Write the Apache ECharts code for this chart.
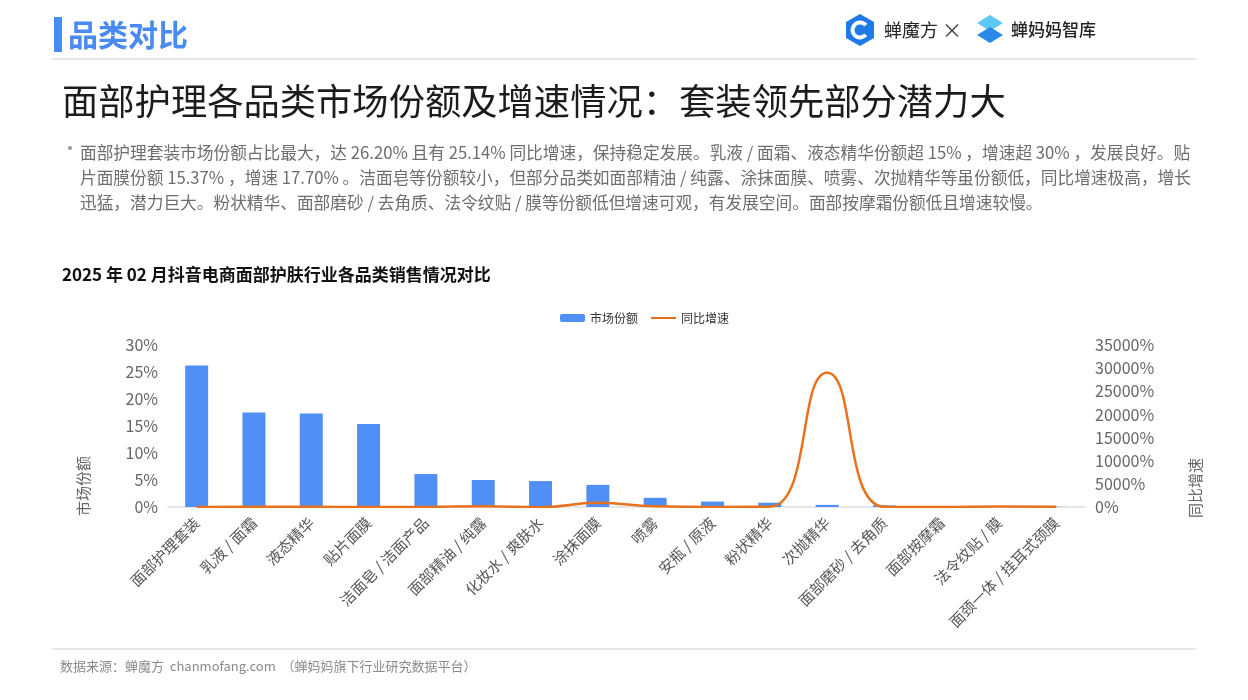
<!DOCTYPE html>
<html>
<head>
<meta charset="utf-8">
<script src="https://cdn.jsdelivr.net/npm/echarts@6/dist/echarts.min.js"></script>
<style>
html,body{margin:0;padding:0;background:#fff;}
#c{width:1248px;height:700px;}
</style>
</head>
<body>
<div id="c"></div>
<script>
// ---- data ----
const categories = ['面部护理套装','乳液 / 面霜','液态精华','贴片面膜','洁面皂 / 洁面产品','面部精油 / 纯露','化妆水 / 爽肤水','涂抹面膜','喷雾','安瓶 / 原液','粉状精华','次抛精华','面部磨砂 / 去角质','面部按摩霜','法令纹贴 / 膜','面颈一体 / 挂耳式颈膜'];
const shareValues = [26.20, 17.5, 17.3, 15.37, 6.1, 5.0, 4.8, 4.1, 1.7, 1.0, 0.8, 0.4, 0.3, 0.1, 0.05, 0.03];
const growthValues = [25.14, 33.5, 31.2, 17.70, 12.0, 180, -30, 900, 150, 20, 60, 29000, 40, 8, 120, 60];
const seriesNames = ['市场份额', '同比增速'];
const leftAxis = {min: 0, max: 30, interval: 5};
const rightAxis = {min: 0, max: 35000, interval: 5000};

const FONT = '"Noto Sans CJK SC", "Noto Sans", sans-serif';
const chart = echarts.init(document.getElementById('c'), null, {renderer: 'canvas'});

const paragraph = [
  '面部护理套装市场份额占比最大，达 26.20% 且有 25.14% 同比增速，保持稳定发展。乳液 / 面霜、液态精华份额超 15% ，增速超 30% ，发展良好。贴',
  '片面膜份额 15.37% ，增速 17.70% 。洁面皂等份额较小，但部分品类如面部精油 / 纯露、涂抹面膜、喷雾、次抛精华等虽份额低，同比增速极高，增长',
  '迅猛，潜力巨大。粉状精华、面部磨砂 / 去角质、法令纹贴 / 膜等份额低但增速可观，有发展空间。面部按摩霜份额低且增速较慢。'
];

const pct = v => v + '%';

const graphics = [
  {type:'rect', shape:{x:54, y:17, width:8, height:35}, style:{fill:'#4a8af4'}},
  {type:'text', x:68, y:35, style:{text:'品类对比', font:'bold 30px ' + FONT, fill:'#4a8af4', verticalAlign:'middle'}},
  {type:'line', shape:{x1:52, y1:59, x2:1196, y2:59}, style:{stroke:'#e7e7eb', lineWidth:2}},
  // logo 1
  {type:'polygon', shape:{points:[[860,14],[874,22],[874,38],[860,46],[846,38],[846,22]]}, style:{fill:'#1f7ae8'}},
  {type:'arc', shape:{cx:860, cy:30, r:7.5, startAngle:0.7, endAngle:Math.PI*2-0.7}, style:{stroke:'#fff', lineWidth:4, fill:null}},
  {type:'text', x:884, y:30, style:{text:'蝉魔方', font:'18px ' + FONT, fill:'#222', verticalAlign:'middle'}},
  {type:'text', x:952, y:30, style:{text:'×', font:'20px ' + FONT, fill:'#444', align:'center', verticalAlign:'middle'}},
  // logo 2
  {type:'polygon', shape:{points:[[990,15],[1003,23],[990,31],[977,23]]}, style:{fill:'#5cc9f2'}},
  {type:'polygon', shape:{points:[[990,27],[1003,35],[990,43],[977,35]]}, style:{fill:'#2a8ae8'}},
  {type:'text', x:1011, y:30, style:{text:'蝉妈妈智库', font:'500 17px ' + FONT, fill:'#222', verticalAlign:'middle'}},
  // title
  {type:'text', x:62, y:101, style:{text:'面部护理各品类市场份额及增速情况：套装领先部分潜力大', font:'36.3px ' + FONT, fill:'#1c1c1c', verticalAlign:'middle'}},
  {type:'circle', shape:{cx:70, cy:148, r:2}, style:{fill:'#999'}},
  {type:'text', x:80, y:153, style:{text:paragraph[0], font:'16.7px ' + FONT, fill:'#6e6e6e', verticalAlign:'middle'}},
  {type:'text', x:80, y:178, style:{text:paragraph[1], font:'16.7px ' + FONT, fill:'#6e6e6e', verticalAlign:'middle'}},
  {type:'text', x:80, y:203, style:{text:paragraph[2], font:'16.7px ' + FONT, fill:'#6e6e6e', verticalAlign:'middle'}},
  // chart title
  {type:'text', x:62, y:275, style:{text:'2025 年 02 月抖音电商面部护肤行业各品类销售情况对比', font:'bold 17px ' + FONT, fill:'#111', verticalAlign:'middle'}},
  // axis names
  {type:'text', x:83, y:486, rotation:Math.PI/2, style:{text:'市场份额', font:'15px ' + FONT, fill:'#666', align:'center', verticalAlign:'middle'}},
  {type:'text', x:1195, y:488, rotation:Math.PI/2, style:{text:'同比增速', font:'15px ' + FONT, fill:'#666', align:'center', verticalAlign:'middle'}},
  // footer
  {type:'line', shape:{x1:52, y1:649, x2:1196, y2:649}, style:{stroke:'#e7e7eb', lineWidth:2}},
  {type:'text', x:60, y:666, style:{text:'数据来源：蝉魔方  chanmofang.com  （蝉妈妈旗下行业研究数据平台）', font:'13px ' + FONT, fill:'#8a8a8a', verticalAlign:'middle'}}
];

const option = {
  animation: false,
  backgroundColor: '#fff',
  textStyle: {fontFamily: FONT},
  legend: {
    data: [
      {name: seriesNames[0]},
      {name: seriesNames[1], itemStyle: {opacity: 0, color: 'transparent', borderWidth: 0}}
    ],
    left: 555, top: 307,
    itemWidth: 25, itemHeight: 8, itemGap: 12,
    textStyle: {fontSize: 12, color: '#333', fontFamily: FONT}
  },
  grid: {left: 168, right: 163, top: 345, bottom: 193},
  xAxis: {
    type: 'category',
    data: categories,
    axisLine: {lineStyle: {color: '#dedede', width: 1.5}},
    axisTick: {show: false},
    axisLabel: {rotate: 45, interval: 0, fontSize: 15, color: '#555', margin: 13, fontFamily: FONT}
  },
  yAxis: [
    {type:'value', min:leftAxis.min, max:leftAxis.max, interval:leftAxis.interval,
     axisLabel:{formatter: pct, fontSize:16, color:'#666', margin:10, fontFamily: FONT},
     axisLine:{show:false}, axisTick:{show:false}, splitLine:{show:false}},
    {type:'value', min:rightAxis.min, max:rightAxis.max, interval:rightAxis.interval,
     axisLabel:{formatter: pct, fontSize:16, color:'#666', margin:10, fontFamily: FONT},
     axisLine:{show:false}, axisTick:{show:false}, splitLine:{show:false}}
  ],
  series: [
    {name: seriesNames[0], type:'bar', data: shareValues, barWidth: 23, itemStyle:{color:'#4f8ff6'}},
    {name: seriesNames[1], type:'line', yAxisIndex:1, data: growthValues, smooth:true, symbol:'none',
     lineStyle:{color:'#e8711e', width:2.5}, itemStyle:{color:'#e8711e'}}
  ],
  graphic: graphics
};
chart.setOption(option);
</script>
</body>
</html>
